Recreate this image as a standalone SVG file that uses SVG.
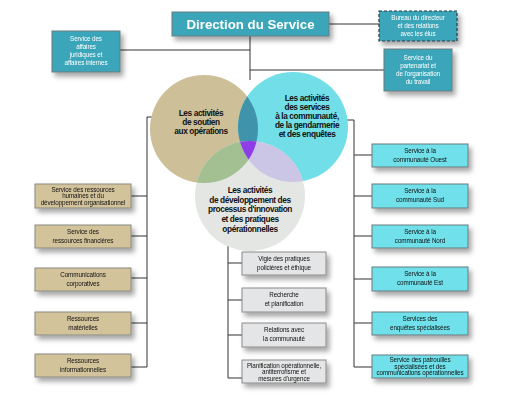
<svg xmlns="http://www.w3.org/2000/svg" width="514" height="400" viewBox="0 0 514 400">
<defs>
<filter id="sh" x="-20%" y="-20%" width="150%" height="170%">
<feDropShadow dx="3" dy="4" stdDeviation="2.5" flood-color="#000" flood-opacity="0.35"/>
</filter>
<clipPath id="cTan"><circle cx="204" cy="129" r="54"/></clipPath>
<clipPath id="cCyan"><circle cx="293" cy="127" r="55"/></clipPath>
<clipPath id="cGrey"><circle cx="250" cy="196" r="55"/></clipPath>
</defs>
<style>
.ln{stroke:#333;stroke-width:1;fill:none}
.teal{fill:#3aa6b9;stroke:#6a7a80;stroke-width:1}
.tan{fill:#d2c39b;stroke:#8a8a80;stroke-width:1}
.cy{fill:#6fe0ea;stroke:#6a7a80;stroke-width:1}
.gr{fill:#e4e5e6;stroke:#8a8a8a;stroke-width:1}
text{font-family:"Liberation Sans",Arial,sans-serif;text-anchor:middle}
.w{fill:#fff;font-size:6.3px;letter-spacing:-0.1px}
.b{fill:#111;font-size:6.3px;letter-spacing:-0.1px}
.c{fill:#111;font-size:8.3px;font-weight:bold;letter-spacing:-0.4px}
</style>
<rect width="514" height="400" fill="#fff"/>
<g id="connectors">
<path class="ln" d="M329,24H379 M250,36V80 M120,50H250 M250,70H384"/>
<path class="ln" d="M155,117H147V367 M131,196H147 M131,236H147 M131,278H147 M131,323H147 M131,367H147"/>
<path class="ln" d="M345,120H354V367 M354,155H372 M354,196H372 M354,236H372 M354,279H372 M354,323H372 M354,367H372"/>
<path class="ln" d="M228,245V378 M228,263H242 M228,300H242 M228,335H242 M228,378H242"/>
</g>
<g id="circles">
<circle cx="204" cy="129" r="54" fill="#cdbf98"/>
<circle cx="293" cy="127" r="55" fill="#72dfe8"/>
<circle cx="250" cy="196" r="55" fill="#e4e6e4"/>
<circle cx="293" cy="127" r="55" fill="#3f93aa" clip-path="url(#cTan)"/>
<circle cx="250" cy="196" r="55" fill="#a3c092" clip-path="url(#cTan)"/>
<circle cx="250" cy="196" r="55" fill="#cbc6e6" clip-path="url(#cCyan)"/>
<g clip-path="url(#cTan)"><circle cx="250" cy="196" r="55" fill="#8f3de6" clip-path="url(#cCyan)"/></g>
</g>
<g id="n-soutien"><text class="c" x="201" y="116">Les activités</text><text class="c" x="201" y="125">de soutien</text><text class="c" x="201" y="134">aux opérations</text></g>
<g id="n-communaute"><text class="c" x="307" y="101">Les activités</text><text class="c" x="307" y="110">des services</text><text class="c" x="307" y="119">à la communauté,</text><text class="c" x="307" y="128">de la gendarmerie</text><text class="c" x="307" y="137">et des enquêtes</text></g>
<g id="n-developpement"><text class="c" x="250" y="193">Les activités</text><text class="c" x="250" y="203">de développement des</text><text class="c" x="250" y="212">processus d'innovation</text><text class="c" x="250" y="222">et des pratiques</text><text class="c" x="250" y="232">opérationnelles</text></g>
<g id="n-direction" filter="url(#sh)"><rect class="teal" x="172" y="12" width="157" height="24"/><text x="250.5" y="29" fill="#fff" font-size="13" font-weight="bold" textLength="128" lengthAdjust="spacingAndGlyphs">Direction du Service</text></g>
<g id="n-bureau" filter="url(#sh)"><rect x="379" y="11" width="78" height="30" fill="#3aa6b9" stroke="#2a3a40" stroke-width="1.2" stroke-dasharray="3,2"/><text class="w" x="418" y="19.5">Bureau du directeur</text><text class="w" x="418" y="27.5">et des relations</text><text class="w" x="418" y="35.5">avec les élus</text></g>
<g id="n-partenariat" filter="url(#sh)"><rect class="teal" x="384" y="49" width="68" height="42"/><text class="w" x="418" y="59.5">Service du</text><text class="w" x="418" y="67.5">partenariat et</text><text class="w" x="418" y="75.5">de l'organisation</text><text class="w" x="418" y="83.5">du travail</text></g>
<g id="n-juridiques" filter="url(#sh)"><rect class="teal" x="52" y="31" width="68" height="41"/><text class="w" x="86" y="41">Service des</text><text class="w" x="86" y="49">affaires</text><text class="w" x="86" y="57">juridiques et</text><text class="w" x="86" y="65">affaires internes</text></g>
<g id="n-rh" filter="url(#sh)"><rect class="tan" x="35" y="184" width="96" height="24"/><text class="b" x="83" y="191.5">Service des ressources</text><text class="b" x="83" y="198">humaines et du</text><text class="b" x="83" y="204.5">développement organisationnel</text></g>
<g id="n-fin" filter="url(#sh)"><rect class="tan" x="35" y="225" width="96" height="23"/><text class="b" x="83" y="234">Service des</text><text class="b" x="83" y="243">ressources financières</text></g>
<g id="n-comm" filter="url(#sh)"><rect class="tan" x="35" y="268" width="96" height="23"/><text class="b" x="83" y="277">Communications</text><text class="b" x="83" y="286">corporatives</text></g>
<g id="n-mat" filter="url(#sh)"><rect class="tan" x="35" y="312" width="96" height="23"/><text class="b" x="83" y="321">Ressources</text><text class="b" x="83" y="330">matérielles</text></g>
<g id="n-info" filter="url(#sh)"><rect class="tan" x="35" y="354" width="96" height="23"/><text class="b" x="83" y="363">Ressources</text><text class="b" x="83" y="372">informationnelles</text></g>
<g id="n-vigie" filter="url(#sh)"><rect class="gr" x="242" y="252" width="84" height="23"/><text class="b" x="284" y="261">Vigie des pratiques</text><text class="b" x="284" y="270">policières et éthique</text></g>
<g id="n-recherche" filter="url(#sh)"><rect class="gr" x="242" y="288" width="84" height="24"/><text class="b" x="284" y="297">Recherche</text><text class="b" x="284" y="306">et planification</text></g>
<g id="n-relations" filter="url(#sh)"><rect class="gr" x="242" y="323" width="84" height="24"/><text class="b" x="284" y="332">Relations avec</text><text class="b" x="284" y="341">la communauté</text></g>
<g id="n-planif" filter="url(#sh)"><rect class="gr" x="242" y="360" width="84" height="23"/><text class="b" x="284" y="367.5">Planification opérationnelle,</text><text class="b" x="284" y="374">antiterrorisme et</text><text class="b" x="284" y="380.5">mesures d'urgence</text></g>
<g id="n-ouest" filter="url(#sh)"><rect class="cy" x="372" y="144" width="96" height="23"/><text class="b" x="420" y="153">Service à la</text><text class="b" x="420" y="162">communauté Ouest</text></g>
<g id="n-sud" filter="url(#sh)"><rect class="cy" x="372" y="184" width="96" height="24"/><text class="b" x="420" y="193">Service à la</text><text class="b" x="420" y="202">communauté Sud</text></g>
<g id="n-nord" filter="url(#sh)"><rect class="cy" x="372" y="225" width="96" height="23"/><text class="b" x="420" y="234">Service à la</text><text class="b" x="420" y="243">communauté Nord</text></g>
<g id="n-est" filter="url(#sh)"><rect class="cy" x="372" y="267" width="96" height="24"/><text class="b" x="420" y="276">Service à la</text><text class="b" x="420" y="285">communauté Est</text></g>
<g id="n-enquetes" filter="url(#sh)"><rect class="cy" x="372" y="312" width="96" height="23"/><text class="b" x="420" y="321">Services des</text><text class="b" x="420" y="330">enquêtes spécialisées</text></g>
<g id="n-patrouilles" filter="url(#sh)"><rect class="cy" x="372" y="355" width="96" height="23"/><text class="b" x="420" y="362">Service des patrouilles</text><text class="b" x="420" y="368.5">spécialisées et des</text><text class="b" x="420" y="375">communications opérationnelles</text></g>
</svg>
